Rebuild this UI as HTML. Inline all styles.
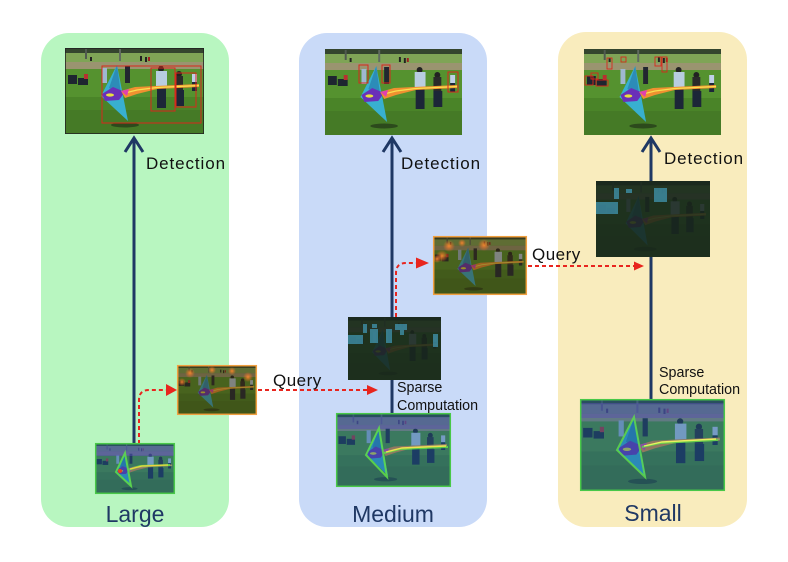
<!DOCTYPE html>
<html><head><meta charset="utf-8"><style>
html,body{margin:0;padding:0;background:#fff;}
svg{display:block;font-family:"Liberation Sans",sans-serif;}
</style></head><body>
<svg width="788" height="562" viewBox="0 0 788 562" xmlns="http://www.w3.org/2000/svg">
<defs>
<symbol id="sc" viewBox="0 0 139 86" preserveAspectRatio="none">
<rect width="139" height="86" fill="#4a8428"/>
<rect width="139" height="5" fill="#34452e"/>
<rect y="5" width="139" height="9" fill="#7fa456"/>
<rect y="14" width="139" height="7" fill="#9a9470"/>
<rect y="21" width="139" height="28" fill="#55922f"/>
<rect y="62" width="139" height="24" fill="#457a26"/>
<rect x="20" y="1" width="2" height="10" fill="#505a50"/>
<rect x="54" y="1" width="2" height="12" fill="#606a60"/>
<rect x="25" y="9" width="2" height="4" fill="#222"/>
<rect x="75" y="8" width="2" height="5" fill="#222"/>
<rect x="80" y="9" width="2" height="5" fill="#222"/>
<rect x="83" y="9" width="2" height="4" fill="#a02020"/>
<rect x="3" y="27" width="9" height="9" fill="#1e2530"/>
<rect x="13" y="30" width="10" height="7" fill="#1e2530"/>
<rect x="19" y="26" width="4" height="5" fill="#b83030"/>
<rect x="37" y="20" width="5" height="15" fill="#9fb8d0"/>
<rect x="60" y="18" width="5" height="17" fill="#222630"/>
<circle cx="96" cy="21" r="3" fill="#222"/>
<rect x="91" y="23" width="11" height="15" fill="#b8cde0"/>
<rect x="92" y="38" width="9" height="22" fill="#1c2638"/>
<circle cx="114" cy="26" r="3" fill="#222"/>
<rect x="110" y="28" width="8" height="14" fill="#2a2a2a"/>
<rect x="110" y="42" width="9" height="16" fill="#1c2638"/>
<rect x="127" y="26" width="5" height="8" fill="#c0d0e8"/>
<rect x="127" y="34" width="5" height="9" fill="#1c2638"/>
<ellipse cx="60" cy="77" rx="14" ry="2.5" fill="#2c4a1c"/>
<polygon points="52,17 36,48 63,73" fill="#38b0d0"/>
<polygon points="52,17 44,40 56,46" fill="#2c8cb8"/>
<polygon points="37,46 48,39 60,44 54,52 40,53" fill="#6a30b8"/>
<ellipse cx="45" cy="47" rx="4" ry="1.6" fill="#e8e040"/>
<polygon points="56,43 70,39 90,38 134,36 134,39 92,41 72,46 60,50" fill="#f09030"/>
<polyline points="60,45 72,42 92,39.5 134,37.5" fill="none" stroke="#f8e050" stroke-width="1.2"/>
<polygon points="56,43 64,41 62,48" fill="#e040b0"/>
</symbol>
<radialGradient id="glow"><stop offset="0" stop-color="#ff8a30" stop-opacity=".9"/><stop offset="1" stop-color="#ff6a20" stop-opacity="0"/></radialGradient>
</defs>

<!-- panels -->
<rect x="41" y="33" width="188" height="494" rx="28" fill="#b8f6c0"/>
<rect x="299" y="33" width="188" height="494" rx="28" fill="#c9daf8"/>
<rect x="558" y="32" width="189" height="495" rx="28" fill="#f9ecbd"/>

<!-- navy arrows -->
<g stroke="#1f3864" stroke-width="3" fill="none">
<line x1="134" y1="447" x2="134" y2="138"/>
<polyline points="125,152 134,138 143,152"/>
<line x1="392" y1="414" x2="392" y2="138"/>
<polyline points="383,152 392,138 401,152"/>
<line x1="651" y1="400" x2="651" y2="138"/>
<polyline points="642,152 651,138 660,152"/>
</g>

<!-- top images -->
<use href="#sc" x="65" y="48" width="139" height="86"/>
<rect x="65.4" y="48.4" width="138.2" height="85.2" fill="none" stroke="#222" stroke-width="0.8"/>
<g fill="none" stroke="#d8281c" stroke-width="1">
<rect x="102" y="66" width="99" height="57"/>
<rect x="151" y="68" width="24" height="43"/>
<rect x="176" y="73" width="20" height="34"/>
</g>
<use href="#sc" x="325" y="49" width="137" height="86"/>
<g fill="none" stroke="#d8281c" stroke-width="1">
<rect x="359" y="65" width="9" height="18"/>
<rect x="382" y="65" width="8" height="18"/>
<rect x="448" y="72" width="10" height="20"/>
</g>
<use href="#sc" x="584" y="49" width="137" height="86"/>
<g fill="none" stroke="#d8281c" stroke-width="0.9">
<rect x="607" y="58" width="5" height="11"/>
<rect x="621" y="57" width="5" height="5"/>
<rect x="655" y="57" width="6" height="9"/>
<rect x="662" y="57" width="5" height="15"/>
<rect x="585" y="76" width="8" height="9"/>
<rect x="596" y="80" width="12" height="6"/>
<rect x="591" y="73" width="7" height="6"/>
</g>

<!-- Detection labels -->
<g font-size="17" fill="#111" letter-spacing="0.9">
<text x="146" y="169">Detection</text>
<text x="401" y="169">Detection</text>
<text x="664" y="164">Detection</text>
</g>

<!-- dashed red connectors -->
<g stroke="#e8251e" stroke-width="2" stroke-dasharray="4 3" fill="none">
<path d="M139,444 V400 Q139,390 149,390 H167"/>
<line x1="258" y1="390" x2="368" y2="390"/>
<path d="M396,317 V273 Q396,263 406,263 H417"/>
<line x1="528" y1="266" x2="634" y2="266"/>
</g>
<g fill="#e8251e">
<polygon points="166,384 177,390 166,396"/>
<polygon points="367,385 378,390 367,395"/>
<polygon points="416,257.5 429,263 416,268.5"/>
<polygon points="634,261.5 644,266 634,270.5"/>
</g>
<g font-size="17" fill="#111" letter-spacing="0.5">
<text x="273" y="386">Query</text>
<text x="532" y="260">Query</text>
</g>

<!-- query images (orange border) -->
<g>
<use href="#sc" x="177" y="365" width="80" height="50"/>
<rect x="177" y="365" width="80" height="50" fill="#3a2a0c" opacity="0.45"/>
<circle cx="190" cy="373" r="5" fill="url(#glow)"/>
<circle cx="212" cy="370" r="4" fill="url(#glow)"/>
<circle cx="232" cy="371" r="4" fill="url(#glow)"/>
<circle cx="248" cy="377" r="5" fill="url(#glow)"/>
<circle cx="182" cy="382" r="4" fill="url(#glow)"/>
<rect x="177.7" y="365.7" width="78.6" height="48.6" fill="none" stroke="#f0a040" stroke-width="1.5"/>
</g>
<g>
<use href="#sc" x="433" y="236" width="94" height="59"/>
<rect x="433" y="236" width="94" height="59" fill="#3a2a0c" opacity="0.45"/>
<circle cx="449" cy="246" r="6" fill="url(#glow)"/>
<circle cx="462" cy="243" r="4" fill="url(#glow)"/>
<circle cx="484" cy="245" r="6" fill="url(#glow)"/>
<circle cx="442" cy="256" r="6" fill="url(#glow)"/>
<circle cx="437" cy="259" r="4" fill="url(#glow)"/>
<rect x="433.7" y="236.7" width="92.6" height="57.6" fill="none" stroke="#f0a040" stroke-width="1.5"/>
</g>

<!-- dark masked images -->
<g>
<rect x="348" y="317" width="93" height="63" fill="#18261c"/>
<use href="#sc" x="348" y="317" width="93" height="63" opacity="0.11"/>
<g fill="#3f90a8" opacity="0.8">
<rect x="363" y="324" width="4" height="9"/>
<rect x="372" y="324" width="5" height="4"/>
<rect x="395" y="324" width="12" height="6"/>
<rect x="400" y="330" width="4" height="5"/>
<rect x="370" y="329" width="8" height="14"/>
<rect x="386" y="329" width="6" height="14"/>
<rect x="348" y="335" width="15" height="9"/>
<rect x="433" y="334" width="5" height="13"/>
</g>
</g>
<g>
<rect x="596" y="181" width="114" height="76" fill="#18261c"/>
<use href="#sc" x="596" y="181" width="114" height="76" opacity="0.11"/>
<g fill="#3f90a8" opacity="0.8">
<rect x="614" y="188" width="5" height="11"/>
<rect x="626" y="189" width="6" height="4"/>
<rect x="654" y="188" width="13" height="14"/>
<rect x="596" y="202" width="22" height="12"/>
</g>
</g>

<!-- heatmap images -->
<g>
<use href="#sc" x="95" y="443" width="80" height="51"/>
<rect x="95" y="443" width="80" height="51" fill="#1c5c9c" opacity="0.45"/>
<rect x="95" y="446" width="80" height="10" fill="#5a50b0" opacity="0.5"/>
<g fill="none" stroke="#60e048" stroke-width="2" opacity="0.85">
<polygon points="125,453 116,472 131,486"/>
<polyline points="128,470 140,466 170,465"/>
</g>
<polyline points="130,469 142,466 168,465" fill="none" stroke="#f0d040" stroke-width="1.2"/>
<circle cx="120" cy="471" r="2" fill="#e84020"/>
<rect x="95.7" y="443.7" width="78.6" height="49.6" fill="none" stroke="#48c848" stroke-width="1.5"/>
</g>
<g>
<use href="#sc" x="336" y="413" width="115" height="74"/>
<rect x="336" y="413" width="115" height="74" fill="#1c5c9c" opacity="0.45"/>
<rect x="336" y="417" width="115" height="12" fill="#5a50b0" opacity="0.5"/>
<g fill="none" stroke="#60e048" stroke-width="2" opacity="0.85">
<polygon points="379,428 366,455 387,477"/>
<polyline points="384,453 400,449 448,447"/>
</g>
<polyline points="386,452 402,448 446,446" fill="none" stroke="#f0e050" stroke-width="1.4"/>
<rect x="336.7" y="413.7" width="113.6" height="72.6" fill="none" stroke="#48c848" stroke-width="1.5"/>
</g>
<g>
<use href="#sc" x="580" y="399" width="145" height="92"/>
<rect x="580" y="399" width="145" height="92" fill="#1c5c9c" opacity="0.45"/>
<rect x="580" y="403" width="145" height="15" fill="#5a50b0" opacity="0.5"/>
<g fill="none" stroke="#60e048" stroke-width="2" opacity="0.8">
<polygon points="634,417 617,450 645,477"/>
<polyline points="642,447 660,443 718,440"/>
</g>
<polyline points="644,446 662,442 716,439" fill="none" stroke="#e8f060" stroke-width="1.4"/>
<rect x="580.7" y="399.7" width="143.6" height="90.6" fill="none" stroke="#48c848" stroke-width="1.5"/>
</g>

<!-- Sparse Computation labels -->
<g font-size="14.3" fill="#111">
<text x="397" y="392">Sparse</text>
<text x="397" y="410">Computation</text>
<text x="659" y="377">Sparse</text>
<text x="659" y="394">Computation</text>
</g>

<!-- panel titles -->
<g font-size="23" fill="#1f3864" text-anchor="middle">
<text x="135" y="522">Large</text>
<text x="393" y="522">Medium</text>
<text x="653" y="521">Small</text>
</g>
</svg>
</body></html>
